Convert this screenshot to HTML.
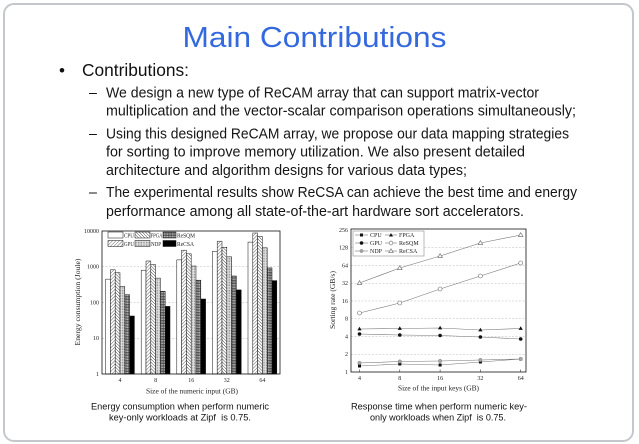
<!DOCTYPE html>
<html><head><meta charset="utf-8"><style>
html,body{margin:0;padding:0;background:#fff;}
svg{display:block;}
</style></head><body>
<svg width="639" height="444" viewBox="0 0 639 444" xmlns="http://www.w3.org/2000/svg">
<defs>
<pattern id="pGPU" width="2.4" height="2.4" patternUnits="userSpaceOnUse" patternTransform="rotate(45)">
<rect width="2.4" height="2.4" fill="#fff"/><line x1="0" y1="0" x2="0" y2="2.4" stroke="#222" stroke-width="0.7"/></pattern>
<pattern id="pFPGA" width="2.2" height="2.2" patternUnits="userSpaceOnUse" patternTransform="rotate(-45)">
<rect width="2.2" height="2.2" fill="#fff"/><line x1="0" y1="0" x2="0" y2="2.2" stroke="#222" stroke-width="0.8"/></pattern>
<pattern id="pNDP" width="1.6" height="1.6" patternUnits="userSpaceOnUse">
<rect width="1.6" height="1.6" fill="#e6e6e6"/><circle cx="0.8" cy="0.8" r="0.45" fill="#666"/></pattern>
<pattern id="pSQM" width="1.6" height="1.6" patternUnits="userSpaceOnUse">
<rect width="1.6" height="1.6" fill="#ddd"/><line x1="0" y1="0.4" x2="1.6" y2="0.4" stroke="#222" stroke-width="0.6"/><line x1="0.4" y1="0" x2="0.4" y2="1.6" stroke="#333" stroke-width="0.5"/></pattern>
</defs>
<rect x="0" y="0" width="639" height="444" fill="#fff"/>
<rect x="4" y="4" width="629" height="437" rx="10" ry="10" fill="#fff" stroke="#c4c8cd" stroke-width="2"/>

<g font-family="Liberation Sans, Arial, sans-serif">
<text x="182.5" y="47" font-size="29" fill="#3468de" textLength="264" lengthAdjust="spacingAndGlyphs">Main Contributions</text>
<text x="59" y="76" font-size="17" fill="#111">•</text>
<text x="82" y="76" font-size="17.5" fill="#111" textLength="107" lengthAdjust="spacingAndGlyphs">Contributions:</text>
<g font-size="14.3" fill="#151515">
<text x="89" y="97.7">–</text>
<text x="106" y="97.7" textLength="433" lengthAdjust="spacingAndGlyphs">We design a new type of ReCAM array that can support matrix-vector</text>
<text x="106" y="115.7" textLength="470" lengthAdjust="spacingAndGlyphs">multiplication and the vector-scalar comparison operations simultaneously;</text>
<text x="89" y="138.7">–</text>
<text x="106" y="138.7" textLength="463" lengthAdjust="spacingAndGlyphs">Using this designed ReCAM array, we propose our data mapping strategies</text>
<text x="106" y="156.7" textLength="419" lengthAdjust="spacingAndGlyphs">for sorting to improve memory utilization. We also present detailed</text>
<text x="106" y="175.2" textLength="361" lengthAdjust="spacingAndGlyphs">architecture and algorithm designs for various data types;</text>
<text x="89" y="197.2">–</text>
<text x="106" y="197.2" textLength="471" lengthAdjust="spacingAndGlyphs">The experimental results show ReCSA can achieve the best time and energy</text>
<text x="106" y="216.2" textLength="418" lengthAdjust="spacingAndGlyphs">performance among all state-of-the-art hardware sort accelerators.</text>
</g>
<g font-size="9.2" fill="#111" text-anchor="middle">
<text x="180" y="409.3" textLength="178" lengthAdjust="spacingAndGlyphs">Energy consumption when perform numeric</text>
<text x="180" y="420.5" textLength="142" lengthAdjust="spacingAndGlyphs">key-only workloads at Zipf&#160; is 0.75.</text>
<text x="439" y="409.3" textLength="176" lengthAdjust="spacingAndGlyphs">Response time when perform numeric key-</text>
<text x="438" y="420.5" textLength="136" lengthAdjust="spacingAndGlyphs">only workloads when Zipf&#160; is 0.75.</text>
</g>
</g>

<!-- LEFT CHART -->
<g font-family="Liberation Serif, Times New Roman, serif" fill="#222">
<g stroke="#bbb" stroke-width="0.5" stroke-dasharray="2,1.5">
<line x1="102" y1="266.75" x2="280" y2="266.75"/>
<line x1="102" y1="302.5" x2="280" y2="302.5"/>
<line x1="102" y1="338.25" x2="280" y2="338.25"/>
</g>
<g font-size="6" text-anchor="end">
<text x="99" y="233">10000</text>
<text x="99" y="268.7">1000</text>
<text x="99" y="304.5">100</text>
<text x="99" y="340.2">10</text>
<text x="99" y="376">1</text>
</g>
<g stroke="#111" stroke-width="0.5">
<rect x="105.6" y="279.15" width="4.8" height="94.85" fill="#fff"/>
<rect x="110.4" y="269.8" width="4.8" height="104.2" fill="url(#pGPU)"/>
<rect x="115.2" y="272.7" width="4.8" height="101.3" fill="url(#pFPGA)"/>
<rect x="120.0" y="286.5" width="4.8" height="87.5" fill="url(#pNDP)"/>
<rect x="124.8" y="294.7" width="4.8" height="79.3" fill="url(#pSQM)"/>
<rect x="129.6" y="316.0" width="4.8" height="58.0" fill="#000"/>
<rect x="141.2" y="270.2" width="4.8" height="103.8" fill="#fff"/>
<rect x="146.0" y="261.0" width="4.8" height="113.0" fill="url(#pGPU)"/>
<rect x="150.8" y="264.6" width="4.8" height="109.4" fill="url(#pFPGA)"/>
<rect x="155.6" y="278.1" width="4.8" height="95.9" fill="url(#pNDP)"/>
<rect x="160.4" y="291.3" width="4.8" height="82.7" fill="url(#pSQM)"/>
<rect x="165.2" y="306.4" width="4.8" height="67.6" fill="#000"/>
<rect x="176.8" y="259.9" width="4.8" height="114.1" fill="#fff"/>
<rect x="181.6" y="250.2" width="4.8" height="123.8" fill="url(#pGPU)"/>
<rect x="186.4" y="253.8" width="4.8" height="120.2" fill="url(#pFPGA)"/>
<rect x="191.2" y="266.0" width="4.8" height="108.0" fill="url(#pNDP)"/>
<rect x="196.0" y="280.2" width="4.8" height="93.8" fill="url(#pSQM)"/>
<rect x="200.8" y="299.0" width="4.8" height="75.0" fill="#000"/>
<rect x="212.4" y="251.3" width="4.8" height="122.7" fill="#fff"/>
<rect x="217.2" y="241.2" width="4.8" height="132.8" fill="url(#pGPU)"/>
<rect x="222.0" y="247.3" width="4.8" height="126.7" fill="url(#pFPGA)"/>
<rect x="226.8" y="256.8" width="4.8" height="117.2" fill="url(#pNDP)"/>
<rect x="231.6" y="276.0" width="4.8" height="98.0" fill="url(#pSQM)"/>
<rect x="236.4" y="289.9" width="4.8" height="84.1" fill="#000"/>
<rect x="248.0" y="242.1" width="4.8" height="131.9" fill="#fff"/>
<rect x="252.8" y="233.0" width="4.8" height="141.0" fill="url(#pGPU)"/>
<rect x="257.6" y="236.5" width="4.8" height="137.5" fill="url(#pFPGA)"/>
<rect x="262.4" y="247.8" width="4.8" height="126.2" fill="url(#pNDP)"/>
<rect x="267.2" y="267.9" width="4.8" height="106.1" fill="url(#pSQM)"/>
<rect x="272.0" y="280.6" width="4.8" height="93.4" fill="#000"/>
</g>
<g stroke="#111" stroke-width="0.5">
<rect x="108" y="232" width="15" height="6" fill="#fff"/>
<rect x="135" y="232" width="15" height="6" fill="url(#pFPGA)"/>
<rect x="163" y="232" width="13" height="6" fill="url(#pSQM)"/>
<rect x="108" y="240.5" width="15" height="6" fill="url(#pGPU)"/>
<rect x="135" y="240.5" width="15" height="6" fill="url(#pNDP)"/>
<rect x="163" y="240.5" width="13" height="6" fill="#000"/>
</g>
<g font-size="6">
<text x="124" y="237.5" textLength="10" lengthAdjust="spacingAndGlyphs">CPU</text>
<text x="150.5" y="237.5" textLength="12" lengthAdjust="spacingAndGlyphs">FPGA</text>
<text x="177" y="237.5" textLength="18" lengthAdjust="spacingAndGlyphs">ReSQM</text>
<text x="124" y="246" textLength="10" lengthAdjust="spacingAndGlyphs">GPU</text>
<text x="151" y="246" textLength="10" lengthAdjust="spacingAndGlyphs">NDP</text>
<text x="177" y="246" textLength="17" lengthAdjust="spacingAndGlyphs">ReCSA</text>
</g>
<rect x="102" y="231" width="178" height="143" fill="none" stroke="#111" stroke-width="0.8"/>
<g font-size="6" text-anchor="middle">
<text x="120" y="382">4</text>
<text x="155.6" y="382">8</text>
<text x="191.2" y="382">16</text>
<text x="226.8" y="382">32</text>
<text x="262.4" y="382">64</text>
</g>
<text x="192" y="393.5" font-size="7" text-anchor="middle" textLength="92" lengthAdjust="spacingAndGlyphs">Size of the numeric input (GB)</text>
<text transform="translate(80,302) rotate(-90)" font-size="7" text-anchor="middle" textLength="87" lengthAdjust="spacingAndGlyphs">Energy consumption (Joule)</text>
</g>

<!-- RIGHT CHART -->
<g font-family="Liberation Serif, Times New Roman, serif" fill="#222">
<g stroke="#bbb" stroke-width="0.5" stroke-dasharray="2,1.5">
<line x1="351" y1="354.25" x2="526" y2="354.25"/>
<line x1="351" y1="336.5" x2="526" y2="336.5"/>
<line x1="351" y1="318.75" x2="526" y2="318.75"/>
<line x1="351" y1="301" x2="526" y2="301"/>
<line x1="351" y1="283.25" x2="526" y2="283.25"/>
<line x1="351" y1="265.5" x2="526" y2="265.5"/>
<line x1="351" y1="247.75" x2="526" y2="247.75"/>
</g>
<g font-size="6" text-anchor="end">
<text x="348" y="232">256</text>
<text x="348" y="249.7">128</text>
<text x="348" y="267.5">64</text>
<text x="348" y="285.2">32</text>
<text x="348" y="303">16</text>
<text x="348" y="320.7">8</text>
<text x="348" y="338.5">4</text>
<text x="348" y="356.2">2</text>
<text x="348" y="374">1</text>
</g>
<g fill="none" stroke="#777" stroke-width="0.6">
<polyline points="359.5,366 399.8,364 440.1,365 480.4,362 520.7,359"/>
<polyline points="359.5,334 399.8,335 440.1,335.5 480.4,337 520.7,339"/>
<polyline points="359.5,329 399.8,328.5 440.1,328 480.4,330 520.7,328.5"/>
<polyline points="359.5,313 399.8,303 440.1,289 480.4,276 520.7,263"/>
<polyline points="359.5,363 399.8,361.5 440.1,361 480.4,360 520.7,359"/>
<polyline points="359.5,283 399.8,268 440.1,256 480.4,243 520.7,235"/>
</g>
<g fill="#111">
<rect x="358" y="364.5" width="3" height="3"/><rect x="398.3" y="362.5" width="3" height="3"/><rect x="438.6" y="363.5" width="3" height="3"/><rect x="478.9" y="360.5" width="3" height="3"/><rect x="519.2" y="357.5" width="3" height="3"/>
<circle cx="359.5" cy="334" r="1.8"/><circle cx="399.8" cy="335" r="1.8"/><circle cx="440.1" cy="335.5" r="1.8"/><circle cx="480.4" cy="337" r="1.8"/><circle cx="520.7" cy="339" r="1.8"/>
<polygon points="359.5,326.8 361.6,330.4 357.4,330.4"/><polygon points="399.8,326.3 401.9,329.9 397.7,329.9"/><polygon points="440.1,325.8 442.2,329.4 438,329.4"/><polygon points="480.4,327.8 482.5,331.4 478.3,331.4"/><polygon points="520.7,326.3 522.8,329.9 518.6,329.9"/>
</g>
<g fill="#fff" stroke="#666" stroke-width="0.6">
<circle cx="359.5" cy="313" r="2"/><circle cx="399.8" cy="303" r="2"/><circle cx="440.1" cy="289" r="2"/><circle cx="480.4" cy="276" r="2"/><circle cx="520.7" cy="263" r="2"/>
<polygon points="359.5,280.6 361.8,284.6 357.2,284.6"/><polygon points="399.8,265.6 402.1,269.6 397.5,269.6"/><polygon points="440.1,253.6 442.4,257.6 437.8,257.6"/><polygon points="480.4,240.6 482.7,244.6 478.1,244.6"/><polygon points="520.7,232.6 523,236.6 518.4,236.6"/>
</g>
<g fill="#aaa" stroke="#777" stroke-width="0.5">
<circle cx="359.5" cy="363" r="1.7"/><circle cx="399.8" cy="361.5" r="1.7"/><circle cx="440.1" cy="361" r="1.7"/><circle cx="480.4" cy="360" r="1.7"/><circle cx="520.7" cy="359" r="1.7"/>
</g>
<rect x="353" y="231" width="71" height="25" fill="#fff" stroke="#777" stroke-width="0.5"/>
<g stroke="#777" stroke-width="0.6">
<line x1="355" y1="235" x2="368" y2="235"/><line x1="385" y1="235" x2="397" y2="235"/>
<line x1="355" y1="243" x2="368" y2="243"/><line x1="385" y1="243" x2="397" y2="243"/>
<line x1="355" y1="251" x2="368" y2="251"/><line x1="385" y1="251" x2="397" y2="251"/>
</g>
<rect x="360" y="233.5" width="3" height="3" fill="#111"/>
<polygon points="391,233 393,236.5 389,236.5" fill="#111"/>
<circle cx="361.5" cy="243" r="1.8" fill="#111"/>
<circle cx="391" cy="243" r="1.9" fill="#fff" stroke="#666" stroke-width="0.6"/>
<circle cx="361.5" cy="251" r="1.6" fill="#aaa" stroke="#777" stroke-width="0.5"/>
<polygon points="391,248.8 393.2,252.6 388.8,252.6" fill="#fff" stroke="#666" stroke-width="0.6"/>
<g font-size="6">
<text x="370" y="237">CPU</text><text x="399" y="237">FPGA</text>
<text x="370" y="245">GPU</text><text x="399" y="245">ReSQM</text>
<text x="370" y="253">NDP</text><text x="399" y="253">ReCSA</text>
</g>
<rect x="351" y="229" width="175" height="143" fill="none" stroke="#111" stroke-width="0.8"/>
<g stroke="#111" stroke-width="0.5">
<line x1="359.5" y1="372" x2="359.5" y2="369.5"/><line x1="399.8" y1="372" x2="399.8" y2="369.5"/><line x1="440.1" y1="372" x2="440.1" y2="369.5"/><line x1="480.4" y1="372" x2="480.4" y2="369.5"/><line x1="520.7" y1="372" x2="520.7" y2="369.5"/>
</g>
<g font-size="6" text-anchor="middle">
<text x="359.5" y="380">4</text>
<text x="399.8" y="380">8</text>
<text x="440.1" y="380">16</text>
<text x="480.4" y="380">32</text>
<text x="520.7" y="380">64</text>
</g>
<text x="438.5" y="390.5" font-size="7" text-anchor="middle" textLength="81" lengthAdjust="spacingAndGlyphs">Size of the input keys (GB)</text>
<text transform="translate(335,300) rotate(-90)" font-size="7" text-anchor="middle" textLength="58" lengthAdjust="spacingAndGlyphs">Sorting rate (GB/s)</text>
</g>
</svg>
</body></html>
